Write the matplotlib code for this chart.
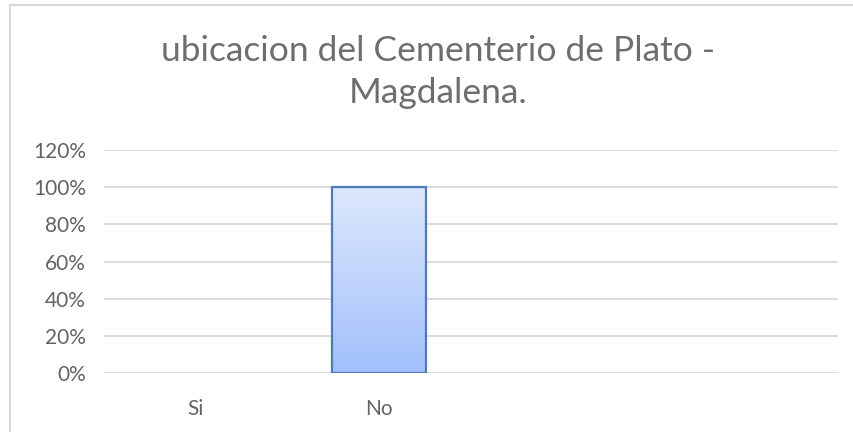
import matplotlib
matplotlib.use("Agg")
import matplotlib.pyplot as plt
import numpy as np
from matplotlib.patches import Rectangle
from matplotlib.ticker import FuncFormatter

categories = ["Si", "No", "", ""]
values = [0.0, 1.0, None, None]
yticks = [0.0, 0.2, 0.4, 0.6, 0.8, 1.0, 1.2]
title = "ubicacion del Cementerio de Plato -\nMagdalena."

W, H = 854, 432
fig = plt.figure(figsize=(W / 100, H / 100), dpi=100)
fig.patch.set_facecolor("white")
plt.rcParams["font.family"] = ["Lato", "DejaVu Sans"]

# chart border
fig.patches.append(Rectangle((10.5 / W, -0.1), 1.2, 1.1 - 5.5 / H, transform=fig.transFigure,
                             fill=False, edgecolor="#d9d9d9", linewidth=1.5))

ax = fig.add_axes([104 / W, 1 - 373 / H, (838 - 104) / W, (373 - 150) / H])
x = np.arange(len(categories))
vals = [v if v is not None else 0 for v in values]
bars = ax.bar(x, vals, width=0.51, facecolor="none", edgecolor="#4f7bbd", linewidth=1.6, zorder=3)

grad = np.linspace(0, 1, 256).reshape(-1, 1)
top = np.array([0xdd, 0xe8, 0xfc]) / 255
bot = np.array([0xa2, 0xc0, 0xfb]) / 255
img = top[None, None, :] * (1 - grad[:, :, None]) + bot[None, None, :] * grad[:, :, None]
for b, v in zip(bars, vals):
    if v <= 0:
        b.set_visible(False)
        continue
    x0, w = b.get_x(), b.get_width()
    im = ax.imshow(img, extent=[x0, x0 + w, 0, v], aspect="auto", zorder=2, origin="upper")
    im.set_clip_path(b)

ax.set_xlim(-0.5, len(categories) - 0.5)
ax.set_ylim(0, 1.2)
ax.set_yticks(yticks)
ax.yaxis.set_major_formatter(FuncFormatter(lambda v, p: f"{v*100:.0f}%"))
ax.set_xticks(x)
ax.set_xticklabels(categories)
ax.grid(axis="y", color="#d9d9d9", linewidth=1.3, zorder=0)
ax.set_axisbelow(True)
for s in ax.spines.values():
    s.set_visible(False)
ax.tick_params(length=0, colors="#636363", labelsize=15)
ax.tick_params(axis="y", pad=13)
ax.tick_params(axis="x", pad=19)

fig.text(438 / W, 1 - 72 / H, title, ha="center", va="center", fontsize=25.5,
         color="#6e6e6e", linespacing=1.4)

fig.savefig("out.png", dpi=100, facecolor="white")
